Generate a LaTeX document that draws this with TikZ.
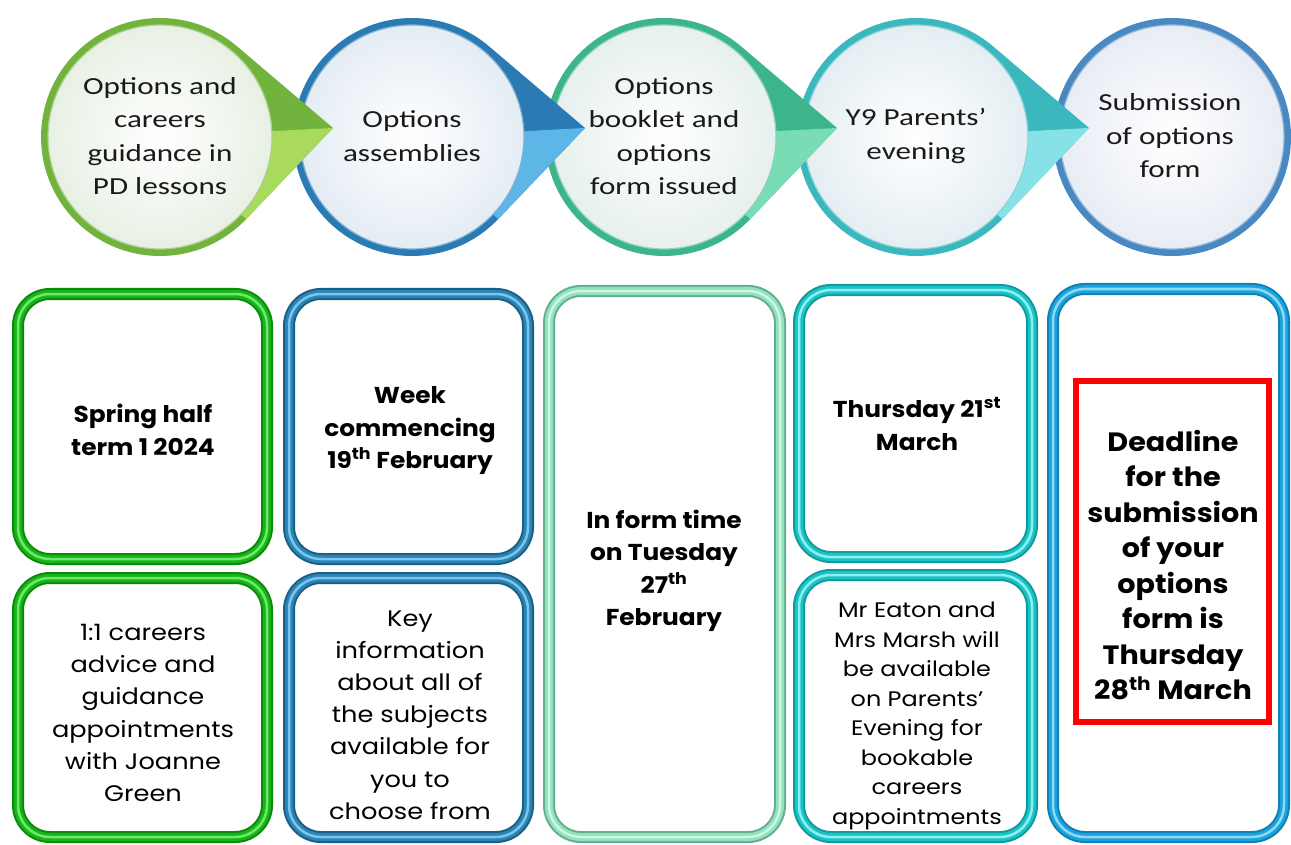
\documentclass[tikz,border=0pt]{standalone}
\usepackage{fontspec}
\usetikzlibrary{calc}
\newfontfamily\gothic[FakeStretch=1.14]{Poppins}
\newfontfamily\gothicb[FakeStretch=1.08]{Poppins}
\newfontfamily\circfont[FakeStretch=1.27]{Carlito}
\definecolor{ringA}{HTML}{72B33E}\definecolor{lightA}{HTML}{A9DA5E}\definecolor{paleA}{HTML}{E8F0E4}
\definecolor{ringB}{HTML}{2A7BB4}\definecolor{lightB}{HTML}{5CB6E6}\definecolor{paleB}{HTML}{E4ECF4}
\definecolor{ringC}{HTML}{3DB58A}\definecolor{lightC}{HTML}{78DDB4}\definecolor{paleC}{HTML}{E6F0EE}
\definecolor{ringD}{HTML}{3BB7BE}\definecolor{lightD}{HTML}{86E2E6}\definecolor{paleD}{HTML}{E4EEF2}
\definecolor{ringE}{HTML}{4A88C2}\definecolor{paleE}{HTML}{E8ECF4}
\definecolor{d1}{HTML}{0A8A0A}\definecolor{m1}{HTML}{18B418}\definecolor{l1}{HTML}{6FE86F}
\definecolor{d2}{HTML}{1A5F85}\definecolor{m2}{HTML}{2A84B5}\definecolor{l2}{HTML}{7CC4EA}
\definecolor{d3}{HTML}{62AF8E}\definecolor{m3}{HTML}{92E2BE}\definecolor{l3}{HTML}{CCF7E4}
\definecolor{d4}{HTML}{0F9A9E}\definecolor{m4}{HTML}{1CC3C6}\definecolor{l4}{HTML}{8CF0F0}
\definecolor{d5}{HTML}{0E80B5}\definecolor{m5}{HTML}{1AA3DC}\definecolor{l5}{HTML}{8ED8F6}
\definecolor{txt}{HTML}{1A1A1A}
\newcommand\stagedrop[5]{%
  \coordinate (#1) at (#2,137);
  \fill[#3] ($(#1)+(49.6:119pt)$) coordinate (#1ta) -- ($(#1)+(173pt,9pt)$) coordinate (#1tip)
     -- ($(#1)+(-43.6:119pt)$) coordinate (#1tb) arc[start angle=-43.6, end angle=-310.4, radius=119pt] -- cycle;
  \fill[#4] (#1tip) -- (#1tb) -- (#1) -- cycle;
  \shadedraw[inner color=white, outer color=#5, draw=#3!60!white, line width=1.2pt] (#1) circle[radius=112pt];
}
\tikzset{
  tube/.style n args={3}{draw=#1, line width=12pt, rounded corners=32pt, inner sep=0pt, outer sep=0pt,
     postaction={draw=#2, line width=8pt}, postaction={draw=#3, line width=2.5pt}},
  circtext/.style={align=center, text=txt, font={\circfont\fontsize{24.5}{33.5}\selectfont}},
  boldtext/.style={align=center, text=black, font={\gothicb\bfseries\fontsize{23}{32.5}\selectfont}},
  plaintext/.style={align=center, text=black, font={\gothic\fontsize{22.5}{32.2}\selectfont}},
}
\begin{document}
\begin{tikzpicture}[x=1pt,y=-1pt]
\useasboundingbox[fill=white] (0,0) rectangle (1291,845);
% top stages, right to left
\coordinate (s5) at (1172,137);
\fill[ringE] (s5) circle[radius=119pt];
\shadedraw[inner color=white, outer color=paleE, draw=ringE!60!white, line width=1.2pt] (s5) circle[radius=112pt];
\stagedrop{s4}{916}{ringD}{lightD}{paleD}
\stagedrop{s3}{664}{ringC}{lightC}{paleC}
\stagedrop{s2}{412}{ringB}{lightB}{paleB}
\stagedrop{s1}{160}{ringA}{lightA}{paleA}
\node[circtext] (c1) at (160,136) {Options and\\careers\\guidance in\\PD lessons};
\node[circtext] (c2) at (412,136) {Options\\assemblies};
\node[circtext] (c3) at (664,136) {Options\\booklet and\\options\\form issued};
\node[circtext] (c4) at (916,136) {Y9 Parents’\\evening};
\node[circtext] (c5) at (1170,136) {Submission\\of options\\form};
% boxes
\node[tube={d1}{m1}{l1}, minimum width=249pt, minimum height=265pt] (b1a) at (142.5,426.5) {};
\node[tube={d1}{m1}{l1}, minimum width=249pt, minimum height=259pt] (b1b) at (142.5,707.5) {};
\node[tube={d2}{m2}{l2}, minimum width=239pt, minimum height=265pt] (b2a) at (408.5,426.5) {};
\node[tube={d2}{m2}{l2}, minimum width=239pt, minimum height=259pt] (b2b) at (408.5,707.5) {};
\node[tube={d3}{m3}{l3}, minimum width=231pt, minimum height=546pt] (b3) at (664.5,564) {};
\node[tube={d4}{m4}{l4}, minimum width=233pt, minimum height=267pt] (b4a) at (915.5,423.5) {};
\node[tube={d4}{m4}{l4}, minimum width=233pt, minimum height=262pt] (b4b) at (915.5,706) {};
\node[tube={d5}{m5}{l5}, minimum width=231pt, minimum height=548pt] (b5) at (1168.5,563) {};
\node[draw=red, line width=6pt, inner sep=0pt, minimum width=193pt, minimum height=341pt] (red) at (1172.5,551.5) {};
% texts
\node[boldtext] (t1a) at (143,430) {Spring half\\term 1 2024};
\node[boldtext] (t2a) at (410,431) {Week\\commencing\\19\textsuperscript{th} February};
\node[boldtext] (t3) at (664,571) {In form time\\on Tuesday\\27\textsuperscript{th}\\February};
\node[boldtext] (t4a) at (917,424) {Thursday 21\textsuperscript{st}\\March};
\node[boldtext, font={\gothicb\bfseries\fontsize{26.5}{35.5}\selectfont}] (t5) at (1173,565) {Deadline\\for the\\submission\\of your\\options\\form is\\Thursday\\28\textsuperscript{th} March};
\node[plaintext] (t1b) at (143,713) {1:1 careers\\advice and\\guidance\\appointments\\with Joanne\\Green};
\node[plaintext] (t2b) at (410,715) {Key\\information\\about all of\\the subjects\\available for\\you to\\choose from};
\node[plaintext, font={\gothic\fontsize{21}{29.5}\selectfont}] (t4b) at (917,716) {Mr Eaton and\\Mrs Marsh will\\be available\\on Parents’\\Evening for\\bookable\\careers\\appointments};
\end{tikzpicture}
\end{document}
